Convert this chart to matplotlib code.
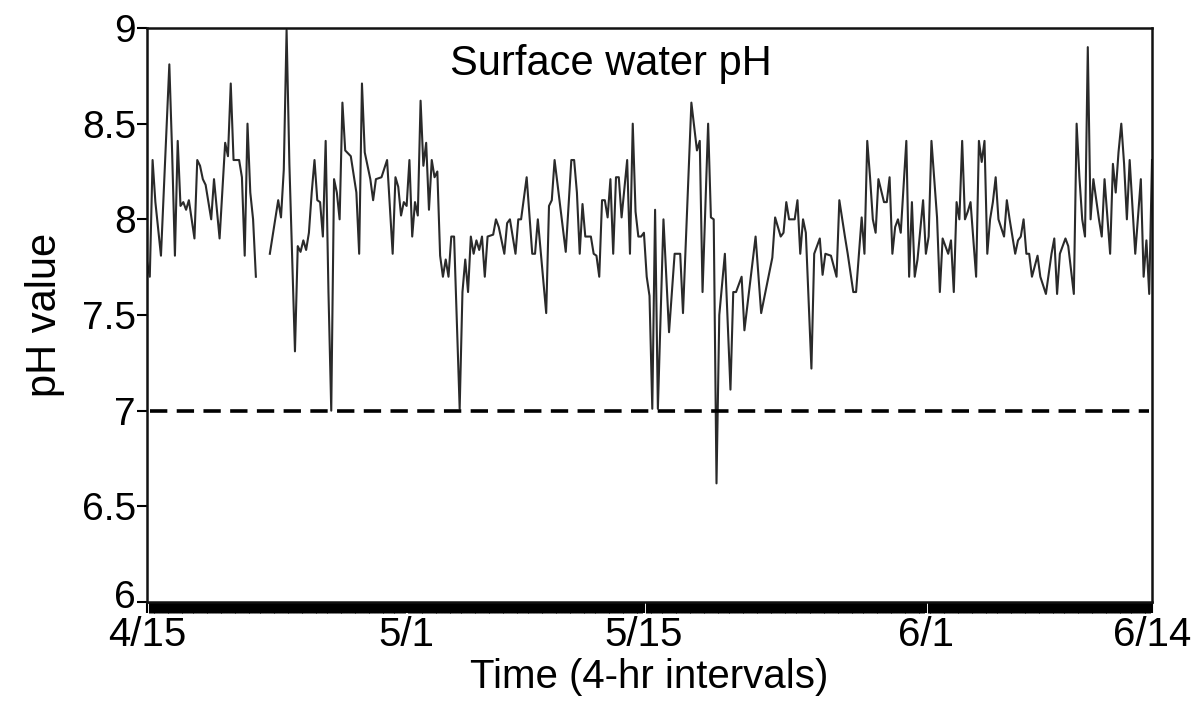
import numpy as np
import matplotlib
matplotlib.use("Agg")
import matplotlib.pyplot as plt
import matplotlib.transforms as mtransforms

# 4-hr interval index (0 = 4/15) and pH readings
interval = [0, 1, 2, 3, 5, 8, 9, 10, 11, 12, 13, 14, 15, 17, 18, 19, 20, 21, 23, 24,
            26, 28, 29, 30, 31, 33, 34, 35, 36, 37, 38, 39, 41, 44, 47, 48, 49, 50, 51, 53,
            54, 55, 56, 57, 58, 59, 60, 61, 62, 63, 64, 65, 66, 67, 68, 69, 70, 71, 73, 75,
            76, 77, 78, 80, 81, 82, 84, 86, 88, 89, 90, 91, 92, 93, 94, 95, 96, 97, 98, 99,
            100, 101, 102, 103, 104, 105, 106, 107, 108, 109, 110, 112, 113, 114, 115, 116, 117, 118, 119, 120,
            121, 122, 124, 125, 126, 128, 129, 130, 132, 133, 134, 136, 137, 138, 139, 140, 143, 144, 145, 146,
            148, 149, 150, 152, 153, 154, 155, 156, 157, 159, 160, 161, 162, 163, 164, 165, 166, 167, 168, 169,
            170, 172, 173, 174, 175, 176, 177, 178, 179, 180, 181, 182, 183, 184, 185, 187, 189, 191, 192, 195,
            197, 198, 199, 201, 202, 203, 204, 205, 207, 209, 210, 211, 213, 214, 218, 220, 224, 225, 227, 228,
            229, 230, 232, 233, 234, 235, 236, 238, 239, 241, 242, 243, 245, 247, 248, 250, 251, 253, 254, 256,
            257, 258, 259, 260, 261, 262, 264, 265, 266, 267, 268, 269, 270, 272, 273, 274, 275, 276, 278, 279,
            280, 281, 283, 284, 285, 287, 288, 289, 290, 291, 292, 293, 294, 295, 297, 298, 299, 300, 301, 302,
            303, 304, 305, 307, 308, 309, 310, 311, 312, 313, 314, 315, 316, 317, 319, 320, 322, 324, 325, 326,
            327, 329, 330, 332, 333, 334, 335, 336, 337, 338, 339, 341, 342, 343, 345, 346, 347, 348, 349, 350,
            351, 352, 354, 356, 357, 358, 359, 360]
ph = [7.78, 7.70, 8.31, 8.09, 7.81, 8.81, 8.35, 7.81, 8.41, 8.07, 8.09, 8.05, 8.10, 7.90, 8.31, 8.28, 8.21, 8.18, 8.00, 8.21,
      7.90, 8.40, 8.33, 8.71, 8.31, 8.31, 8.22, 7.81, 8.50, 8.14, 8.00, 7.70, np.nan, 7.82, 8.10, 8.01, 8.26, 8.99, 8.29, 7.31,
      7.86, 7.83, 7.89, 7.84, 7.93, 8.14, 8.31, 8.10, 8.09, 7.91, 8.41, 7.62, 7.00, 8.21, 8.14, 8.00, 8.61, 8.36, 8.33, 8.14,
      7.82, 8.71, 8.35, 8.21, 8.10, 8.21, 8.22, 8.31, 7.82, 8.22, 8.17, 8.02, 8.09, 8.07, 8.31, 7.91, 8.09, 8.02, 8.62, 8.28,
      8.40, 8.05, 8.31, 8.22, 8.25, 7.81, 7.70, 7.79, 7.70, 7.91, 7.91, 7.01, 7.62, 7.79, 7.62, 7.91, 7.82, 7.89, 7.84, 7.91,
      7.70, 7.91, 7.92, 8.00, 7.96, 7.82, 7.98, 8.00, 7.82, 8.00, 8.00, 8.22, 8.02, 7.82, 7.82, 8.00, 7.51, 8.07, 8.10, 8.31,
      8.07, 7.95, 7.83, 8.31, 8.31, 8.14, 7.82, 8.08, 7.91, 7.91, 7.82, 7.81, 7.70, 8.10, 8.10, 8.01, 8.21, 7.82, 8.22, 8.22,
      8.01, 8.31, 7.82, 8.50, 8.04, 7.91, 7.91, 7.93, 7.70, 7.60, 7.01, 8.05, 7.01, 7.51, 8.00, 7.41, 7.82, 7.82, 7.51, 8.61,
      8.36, 8.41, 7.62, 8.50, 8.01, 8.00, 6.62, 7.50, 7.82, 7.11, 7.62, 7.62, 7.70, 7.42, 7.91, 7.51, 7.80, 8.01, 7.91, 7.93,
      8.09, 8.00, 8.00, 8.10, 7.82, 8.00, 7.93, 7.22, 7.82, 7.90, 7.71, 7.82, 7.81, 7.70, 8.10, 7.91, 7.82, 7.62, 7.62, 8.01,
      7.82, 8.41, 8.22, 8.00, 7.93, 8.21, 8.09, 8.09, 8.22, 7.82, 7.96, 8.00, 7.93, 8.41, 7.70, 8.09, 7.70, 7.79, 8.10, 7.82,
      7.91, 8.41, 8.01, 7.62, 7.90, 7.82, 7.89, 7.62, 8.09, 8.00, 8.41, 8.00, 8.04, 8.09, 7.70, 8.41, 8.30, 8.41, 7.82, 8.00,
      8.09, 8.22, 8.00, 7.91, 8.10, 8.00, 7.91, 7.82, 7.89, 7.91, 8.00, 7.82, 7.82, 7.70, 7.81, 7.70, 7.61, 7.82, 7.90, 7.61,
      7.82, 7.90, 7.86, 7.61, 8.50, 8.22, 8.00, 7.91, 8.90, 8.00, 8.21, 8.00, 7.91, 8.21, 7.82, 8.29, 8.14, 8.35, 8.50, 8.29,
      8.00, 8.31, 7.82, 8.21, 7.70, 7.89, 7.61, 8.31]

date_ticks = [0, 93, 178, 279, 360]
date_labels = ["4/15", "5/1", "5/15", "6/1", "6/14"]
y_ticks = [6, 6.5, 7, 7.5, 8, 8.5, 9]
y_labels = ["6", "6.5", "7", "7.5", "8", "8.5", "9"]
neutral_ph = 7.0
n_intervals = 360

plt.rcParams['font.family'] = ['Liberation Sans', 'DejaVu Sans']

fig = plt.figure(figsize=(11.96, 7.07), dpi=100)
ax = fig.add_axes([147/1196, 1 - 602/707, (1152 - 147)/1196, (602 - 28)/707])

ax.plot(interval, ph, color="#2a2a2a", lw=1.5)
ax.plot([1, n_intervals - 1], [neutral_ph, neutral_ph], color="black", lw=2.6,
        dashes=(4.8, 2.6))

ax.set_xlim(0, n_intervals)
ax.set_ylim(6, 9)
ax.set_yticks(y_ticks)
ax.set_yticklabels(y_labels)
ax.set_xticks(date_ticks)
ax.set_xticklabels(date_labels)
ax.set_xticks(np.arange(0, n_intervals + 1), minor=True)

ax.tick_params(axis="y", direction="out", length=7, width=1.5, labelsize=28, pad=1)
ax.tick_params(axis="x", which="major", direction="out", length=8, width=1.5,
               labelsize=29, pad=2)
ax.tick_params(axis="x", which="minor", direction="out", length=8, width=2.2)

# nudge the bottom "6" label up a little so it does not collide with "4/15"
lbl6 = ax.get_yticklabels()[0]
lbl6.set_transform(lbl6.get_transform() +
                   mtransforms.ScaledTranslation(0, 6 / 72, fig.dpi_scale_trans))

for s in ax.spines.values():
    s.set_linewidth(1.8)
    s.set_color("#111111")

ax.text(0.462, 0.972, "Surface water pH", transform=ax.transAxes, ha="center",
        va="top", fontsize=30)
ax.set_ylabel("pH value", fontsize=30, labelpad=12)
ax.set_xlabel("Time (4-hr intervals)", fontsize=29, labelpad=3)

fig.savefig("out.png", dpi=100)
